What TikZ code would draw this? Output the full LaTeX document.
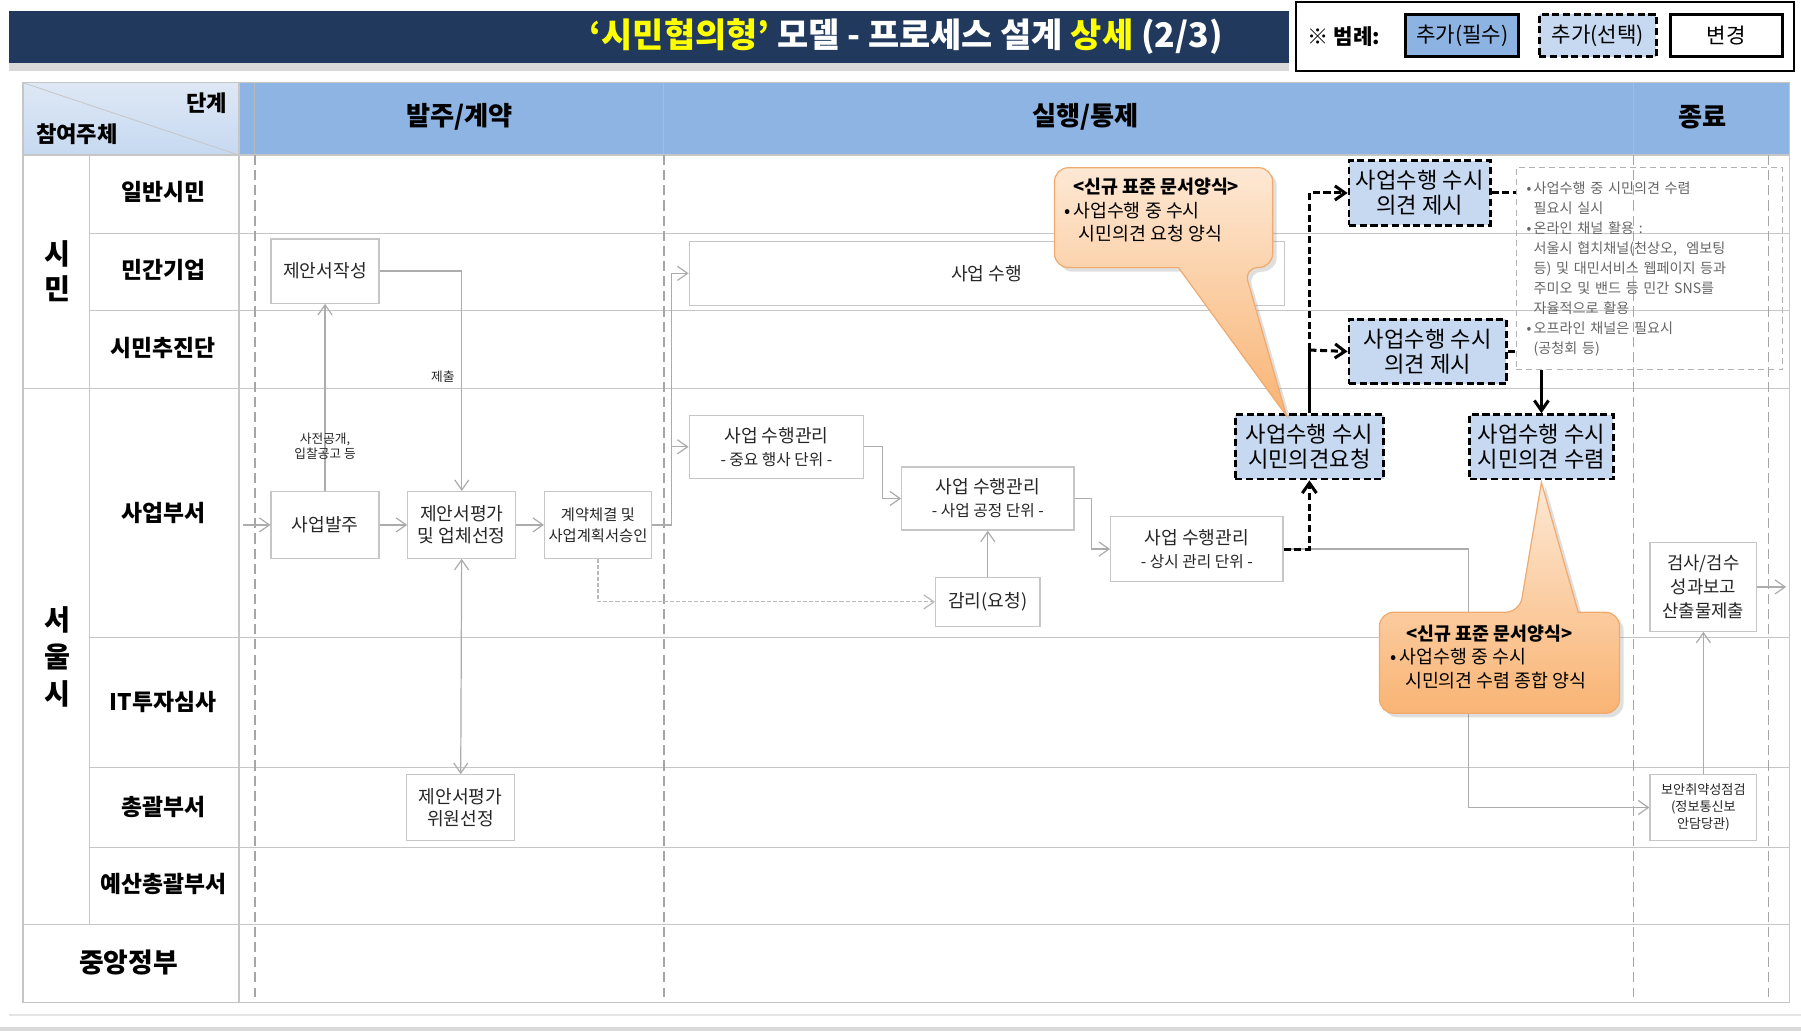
\documentclass[tikz,border=0pt]{standalone}
\usepackage{fontspec}
\setmainfont{Noto Sans CJK KR}
\usepackage{tikz}
\usetikzlibrary{arrows, arrows.meta, positioning, shadows}

\newlength{\pxu}
\setlength{\pxu}{0.02cm}
\newcommand{\fsz}[2]{\fontsize{#1}{#2}\selectfont}

\definecolor{titlenavy}{RGB}{33,57,93}
\definecolor{titleyellow}{RGB}{255,255,0}
\definecolor{headblue}{RGB}{142,180,227}
\definecolor{headpale}{RGB}{222,232,245}
\definecolor{mustblue}{RGB}{141,179,226}
\definecolor{optblue}{RGB}{198,217,241}
\definecolor{notepeach}{RGB}{253,232,212}
\definecolor{noteorange}{RGB}{249,180,116}
\definecolor{noteedge}{RGB}{240,170,110}

\tikzset{
  lane/.style={draw=gray!45, line width=0.6pt},
  phaseline/.style={draw=gray!70, line width=0.6pt, dash pattern=on 5pt off 2.5pt},
  taskbox/.style={draw=gray!45, fill=white, line width=0.6pt, align=center,
    inner sep=1pt, text=black!85, font=\fsz{9}{11}},
  optbox/.style={draw=black, fill=optblue, line width=1.4pt,
    dash pattern=on 3.5pt off 1.8pt, align=center, inner sep=1pt, font=\fsz{11}{12.5}},
  flow/.style={draw=gray!65, line width=0.6pt, ->},
  weakflow/.style={draw=gray!55, line width=0.6pt, dash pattern=on 2pt off 1pt, ->},
  optflow/.style={draw=black, line width=1.5pt, dash pattern=on 3.5pt off 1.8pt, ->},
  fixflow/.style={draw=black, line width=1.5pt, ->},
  tinylabel/.style={font=\fsz{6.3}{7.5}, align=center, text=black!85, inner sep=1pt},
  lanelabel/.style={font=\bfseries\fsz{11.3}{13}},
  phaselabel/.style={font=\bfseries\fsz{13}{15}},
  balloon/.style={draw=noteedge, line width=0.6pt, top color=notepeach,
    bottom color=noteorange, drop shadow={opacity=0.25, shadow xshift=2pt, shadow yshift=-2pt}},
  balloontext/.style={font=\fsz{9.1}{11.5}, align=left, inner sep=0pt},
}

\begin{document}
\begin{tikzpicture}[x=0.02cm, y=-0.02cm, >={Straight Barb[length=5pt,width=7pt]}]
\useasboundingbox (0,0) rectangle (1568,898);
\fill[white] (0,0) rectangle (1568,898);

% title bar and legend
\fill[gray!30] (8,55) rectangle (1122,62);
\fill[titlenavy] (8,10) rectangle (1122,55);
\node[font=\bfseries\fsz{16.8}{18}, text=white] (title) at (789,32)
  {{\color{titleyellow}‘시민협의형’} 모델 - 프로세스 설계 {\color{titleyellow}상세} (2/3)};
\draw[line width=1pt] (1128,2) rectangle (1562,62);
\node[font=\bfseries\fsz{10.5}{12}] (legtitle) at (1170,32) {※ 범례:};
\node[draw, line width=1.5pt, fill=mustblue, minimum width=98\pxu, minimum height=37\pxu,
  font=\fsz{10.5}{12}] (legmust) at (1273,31) {추가(필수)};
\node[optbox, minimum width=102\pxu, minimum height=37\pxu, font=\fsz{10.5}{12}] (legopt) at (1391,31) {추가(선택)};
\node[draw, line width=1.5pt, fill=white, minimum width=97\pxu, minimum height=37\pxu,
  font=\fsz{10.5}{12}] (legchg) at (1503,31) {변경};

% table head
\shade[top color=headpale, bottom color=optblue] (20,72) rectangle (208,135);
\fill[headblue] (208,72) rectangle (1558,135);
\draw[gray!45] (20,72) -- (208,135);
\foreach \x in {222,578,1422}
  \draw[gray!55, line width=0.5pt] (\x,72) -- (\x,135);

% lanes
\foreach \y in {203,270,555,668,738}
  \draw[lane] (78,\y) -- (1558,\y);
\foreach \y in {135,338,805}
  \draw[lane] (20,\y) -- (1558,\y);
\draw[lane] (78,135) -- (78,805);
\draw[lane] (208,72) -- (208,873);
\draw[lane] (20,72) rectangle (1558,873);
\foreach \x in {222,578,1422,1540}
  \draw[phaseline] (\x,135) -- (\x,868);
\draw[gray!20, line width=1pt] (8,884) -- (1568,884);
\fill[gray!30] (0,894) rectangle (1568,898);

% head and lane labels
\node[font=\bfseries\fsz{11}{13}] (stagehd) at (180,90) {단계};
\node[font=\bfseries\fsz{11}{13}] (actorhd) at (67,117) {참여주체};
\node[phaselabel] (phorder) at (400,102) {발주/계약};
\node[phaselabel] (phexec) at (945,102) {실행/통제};
\node[phaselabel] (phclose) at (1482,102) {종료};

\node[font=\bfseries\fsz{14}{17}, align=center] (grpcitizen) at (50,236) {시\\민};
\node[font=\bfseries\fsz{14}{18.5}, align=center] (grpseoul) at (50,572) {서\\울\\시};
\node[lanelabel] (lnpublic) at (142,167) {일반시민};
\node[lanelabel] (lnfirm) at (142,235) {민간기업};
\node[lanelabel] (lnpanel) at (142,303) {시민추진단};
\node[lanelabel] (lndept) at (142,447) {사업부서};
\node[lanelabel] (lnit) at (142,611) {IT투자심사};
\node[lanelabel] (lnhq) at (142,703) {총괄부서};
\node[lanelabel] (lnbudget) at (142,770) {예산총괄부서};
\node[font=\bfseries\fsz{13.3}{15}] (lngov) at (112,838) {중앙정부};

% tasks
\node[taskbox, minimum width=94\pxu, minimum height=56\pxu] (propwrite) at (283,236) {제안서작성};
\node[taskbox, minimum width=94\pxu, minimum height=58\pxu] (order) at (283,457) {사업발주};
\node[taskbox, minimum width=94\pxu, minimum height=58\pxu, right=24\pxu of order] (evalsel) {제안서평가\\및 업체선정};
\node[taskbox, minimum width=93\pxu, minimum height=58\pxu, right=24\pxu of evalsel,
  font=\fsz{7.6}{10.5}] (contract) {계약체결 및\\사업계획서승인};
\node[taskbox, minimum width=94\pxu, minimum height=57\pxu] (committee) at (401,703) {제안서평가\\위원선정};
\node[taskbox, minimum width=518\pxu, minimum height=56\pxu] (exec) at (859,238) {사업 수행};
\node[taskbox, minimum width=152\pxu, minimum height=55\pxu, font=\fsz{9}{11.5}] (mgmtevent) at (676,389)
  {사업 수행관리\\{\fsz{7.8}{11.5}- 중요 행사 단위 -}};
\node[taskbox, minimum width=150\pxu, minimum height=55\pxu, font=\fsz{9}{11.5}] (mgmtproc) at (860,434)
  {사업 수행관리\\{\fsz{7.8}{11.5}- 사업 공정 단위 -}};
\node[taskbox, minimum width=91\pxu, minimum height=43\pxu] (audit) at (860,524) {감리(요청)};
\node[taskbox, minimum width=150\pxu, minimum height=56\pxu, font=\fsz{9}{11.5}] (mgmtdaily) at (1042,478)
  {사업 수행관리\\{\fsz{7.8}{11.5}- 상시 관리 단위 -}};
\node[optbox, minimum width=129\pxu, minimum height=56\pxu] (askreq) at (1140,389) {사업수행 수시\\시민의견요청};
\node[optbox, minimum width=123\pxu, minimum height=56\pxu] (opinionweb) at (1236,168) {사업수행 수시\\의견 제시};
\node[optbox, minimum width=137\pxu, minimum height=56\pxu] (opinionmeet) at (1243,306) {사업수행 수시\\의견 제시};
\node[optbox, minimum width=125\pxu, minimum height=56\pxu] (collect) at (1342,389) {사업수행 수시\\시민의견 수렴};
\node[draw=gray!60, line width=0.6pt, dash pattern=on 3pt off 2pt, minimum width=232\pxu,
  minimum height=176\pxu, text width=214\pxu, align=left, inner sep=0pt,
  font=\fsz{7}{9.9}, text=gray!80!black] (memo) at (1436,234)
  {•\,사업수행 중 시민의견 수렴\\
   \phantom{•\,}필요시 실시\\
   •\,온라인 채널 활용 :\\
   \phantom{•\,}서울시 협치채널(천상오,\ \ 엠보팅\\
   \phantom{•\,}등) 및 대민서비스 웹페이지 등과\\
   \phantom{•\,}주미오 및 밴드 등 민간 SNS를\\
   \phantom{•\,}자율적으로 활용\\
   •\,오프라인 채널은 필요시\\
   \phantom{•\,}(공청회 등)};
\node[taskbox, minimum width=93\pxu, minimum height=77\pxu, font=\fsz{8.8}{12}] (inspect) at (1483,511)
  {검사/검수\\성과보고\\산출물제출};
\node[taskbox, minimum width=93\pxu, minimum height=58\pxu, font=\fsz{6.5}{8.5}] (secchk) at (1483,703)
  {보안취약성점검\\(정보통신보\\안담당관)};

% connectors
\coordinate[left=24\pxu of order.west] (entry);
\draw[flow] (entry) -- (order.west);
\path[flow]
  (order) edge (evalsel)
  (evalsel) edge (contract)
  (evalsel) edge[<->] (committee)
  (audit) edge (mgmtproc)
  (secchk) edge (inspect)
  (order) edge node[tinylabel, pos=0.24] (noticelbl) {사전공개,\\입찰공고 등} (propwrite);
\draw[flow] (propwrite.east) -| node[tinylabel, pos=0.74, left=4\pxu] (submitlbl) {제출} (evalsel.north);
\draw[flow] (contract.east) -- ++(17,0) |- (exec.west);
\draw[flow] (contract.east) -- ++(17,0) |- (mgmtevent.west);
\draw[weakflow] (contract.south) |- (audit.west);
\draw[flow] (mgmtevent.east) -- ++(16,0) |- (mgmtproc.west);
\draw[flow] (mgmtproc.east) -- ++(15,0) |- (mgmtdaily.west);
\draw[flow] (mgmtdaily.east) -- ++(161,0) |- (secchk.west);
\draw[flow] (inspect.east) -- ++(25,0) coordinate (handoff);
\draw[optflow] (mgmtdaily.east) -| (askreq.south);
\draw[line width=1.5pt] (askreq.north) -- ++(0,-55) coordinate (forkpt);
\draw[optflow] (forkpt) -- (opinionmeet.west);
\draw[optflow] (forkpt) |- (opinionweb.west);
\draw[optflow, -] (opinionweb.east) -- (memo.west |- opinionweb.east);
\draw[optflow, -] (opinionmeet.east) -- (memo.west |- opinionmeet.east);
\draw[fixflow] (memo.south -| collect.north) -- (collect.north);

% form balloons
\draw[balloon, rounded corners=7pt] (918,190) -- (918,146) -- (1108,146) -- (1108,233) -- (1083,233)
  [sharp corners] -- (1120,362) -- (1026,233) [rounded corners=7pt] -- (918,233) -- cycle;
\node[balloontext, anchor=north west] (reqform) at (926,155)
  {\hspace*{8\pxu}\textbf{<신규 표준 문서양식>}\\
   •\,사업수행 중 수시\\
   \hspace*{13\pxu}시민의견 요청 양식};
\draw[balloon, rounded corners=7pt] (1201,580) -- (1201,533) -- (1323,533)
  [sharp corners] -- (1342,420) -- (1374,533) [rounded corners=7pt] -- (1410,533) -- (1410,621) -- (1201,621) -- cycle;
\node[balloontext, anchor=north west] (sumform) at (1210,544)
  {\hspace*{14\pxu}\textbf{<신규 표준 문서양식>}\\
   •\,사업수행 중 수시\\
   \hspace*{13\pxu}시민의견 수렴 종합 양식};
\end{tikzpicture}
\end{document}
